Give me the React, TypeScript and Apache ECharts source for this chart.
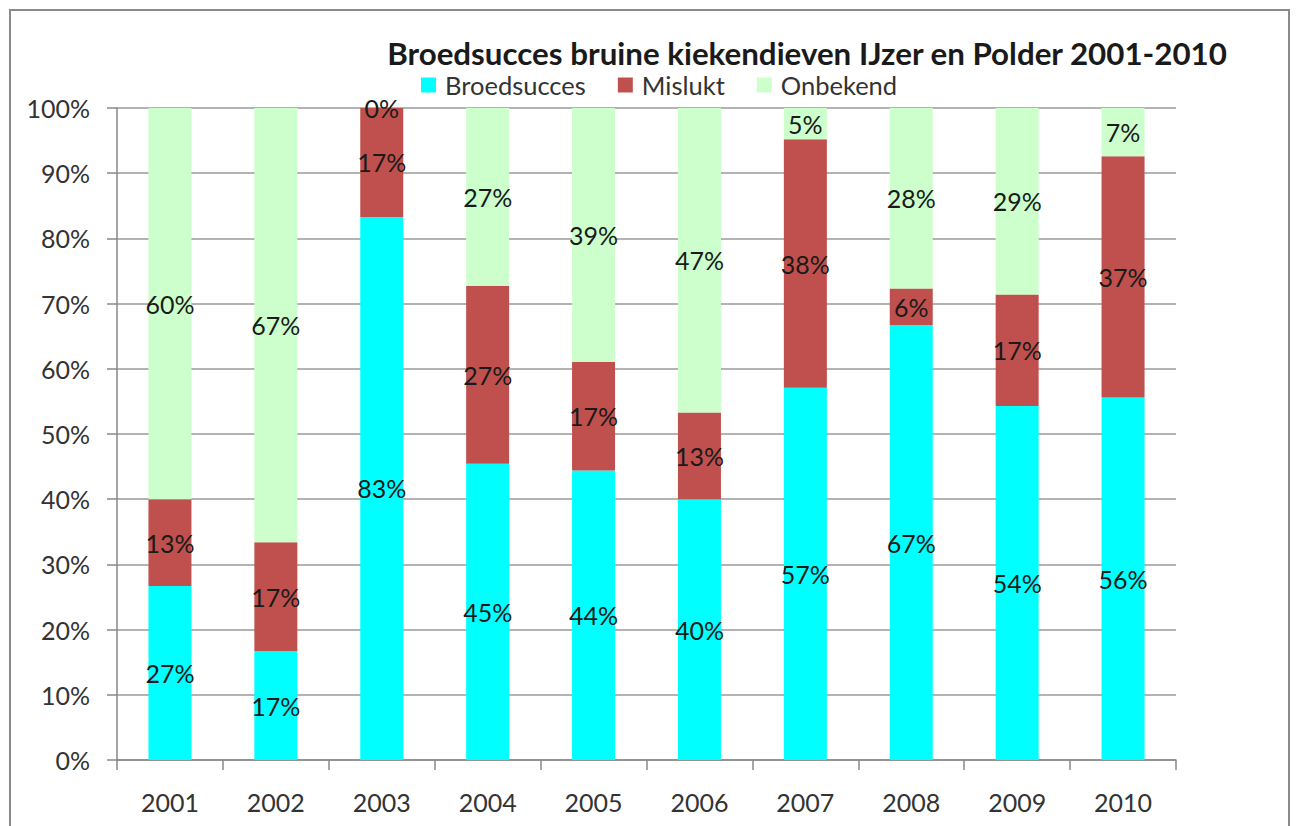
import React, { useEffect, useRef } from "react";
import * as echarts from "echarts";

const years = ["2001", "2002", "2003", "2004", "2005", "2006", "2007", "2008", "2009", "2010"];
const broedsucces = [26.7, 16.7, 83.3, 45.45, 44.4, 40.0, 57.1, 66.7, 54.3, 55.6];
const mislukt = [13.3, 16.7, 16.7, 27.27, 16.7, 13.3, 38.1, 5.6, 17.1, 37.0];
const onbekend = [60.0, 66.6, 0.0, 27.28, 38.9, 46.7, 4.8, 27.7, 28.6, 7.4];

const FONT = "Lato";

export default function App() {
  const ref = useRef<HTMLDivElement>(null);
  useEffect(() => {
    const chart = echarts.init(ref.current!, null, { renderer: "svg" });
    const label = {
      show: true,
      position: "inside",
      color: "#1a1a1a",
      fontFamily: FONT,
      fontSize: 25,
      formatter: (p: any) => Math.round(p.value) + "%",
    };
    const mk = (name: string, data: number[], color: string) => ({
      name,
      type: "bar",
      stack: "total",
      data,
      barWidth: 43,
      itemStyle: { color },
      label,
    });
    chart.setOption({
      animation: false,
      backgroundColor: "#ffffff",
      title: {
        text: "Broedsucces bruine kiekendieven IJzer en Polder 2001-2010",
        left: 802,
        textAlign: "center",
        top: 32,
        textStyle: { fontFamily: FONT, fontWeight: "bold", fontSize: 31.3, color: "#1a1a1a" },
      },
      legend: {
        top: 67,
        left: 416,
        itemWidth: 15,
        itemHeight: 15,
        itemGap: 32,
        icon: "rect",
        textStyle: { fontFamily: FONT, fontSize: 25.5, color: "#333", padding: [0, 0, 0, 4] },
        data: ["Broedsucces", "Mislukt", "Onbekend"],
      },
      grid: { left: 117, right: 121, top: 108, bottom: 66, containLabel: false },
      xAxis: {
        type: "category",
        data: years,
        axisLine: { lineStyle: { color: "#888", width: 1.5 } },
        axisTick: { show: true, length: 10, lineStyle: { color: "#888", width: 1.5 } },
        axisLabel: { fontFamily: FONT, fontSize: 25, color: "#333", margin: 29 },
      },
      yAxis: {
        type: "value",
        min: 0,
        max: 100,
        interval: 10,
        axisLine: { show: true, lineStyle: { color: "#888", width: 1.5 } },
        axisTick: { show: true, length: 10, lineStyle: { color: "#888", width: 1.5 } },
        axisLabel: { fontFamily: FONT, fontSize: 25, color: "#333", margin: 27, formatter: "{value}%" },
        splitLine: { lineStyle: { color: "#9a9a9a", width: 1.5 } },
      },
      graphic: [
        {
          type: "rect",
          shape: { x: 10, y: 10, width: 1279, height: 830 },
          style: { fill: "none", stroke: "#8a8a8a", lineWidth: 2 },
          silent: true,
        },
      ],
      series: [
        mk("Broedsucces", broedsucces, "#00ffff"),
        mk("Mislukt", mislukt, "#c0504d"),
        mk("Onbekend", onbekend, "#ccffcc"),
      ],
    });
    return () => chart.dispose();
  }, []);
  return (
    <div
      ref={ref}
      style={{ position: "fixed", left: 0, top: 0, width: 1297, height: 826 }}
    />
  );
}
